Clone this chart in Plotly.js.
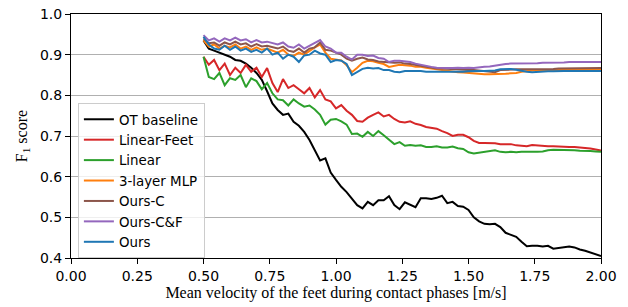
<!DOCTYPE html>
<html><head><meta charset="utf-8">
<script src="https://cdn.plot.ly/plotly-3.0.1.min.js"></script>
<style>html,body{margin:0;padding:0;background:#fff}#c{width:628px;height:307px}</style>
</head><body><div id="c"></div>
<script>
const velocity = [0.50,0.52,0.54,0.56,0.58,0.60,0.62,0.64,0.66,0.68,0.70,0.72,0.74,0.76,0.78,0.80,0.82,0.84,0.86,0.88,0.90,0.92,0.94,0.96,0.98,1.00,1.02,1.04,1.06,1.08,1.10,1.12,1.14,1.16,1.18,1.20,1.22,1.24,1.26,1.28,1.30,1.32,1.34,1.36,1.38,1.40,1.42,1.44,1.46,1.48,1.50,1.52,1.54,1.56,1.58,1.60,1.62,1.64,1.66,1.68,1.70,1.72,1.74,1.76,1.78,1.80,1.82,1.84,1.86,1.88,1.90,1.92,1.94,1.96,1.98,2.00];

const otBaseline = [0.935,0.915,0.91,0.905,0.90,0.895,0.887,0.885,0.878,0.868,0.855,0.838,0.81,0.78,0.764,0.752,0.755,0.735,0.725,0.71,0.69,0.665,0.64,0.645,0.61,0.592,0.575,0.562,0.547,0.53,0.522,0.538,0.53,0.542,0.542,0.552,0.53,0.52,0.537,0.53,0.525,0.547,0.547,0.545,0.548,0.553,0.535,0.538,0.528,0.526,0.518,0.50,0.49,0.484,0.483,0.484,0.476,0.462,0.456,0.452,0.44,0.429,0.43,0.43,0.428,0.43,0.423,0.425,0.427,0.428,0.426,0.421,0.418,0.414,0.41,0.405];

const linearFeet = [0.895,0.875,0.887,0.862,0.878,0.85,0.868,0.855,0.875,0.858,0.868,0.845,0.867,0.83,0.808,0.84,0.818,0.825,0.815,0.805,0.818,0.795,0.813,0.79,0.785,0.768,0.776,0.762,0.752,0.737,0.735,0.745,0.752,0.758,0.748,0.752,0.742,0.735,0.733,0.736,0.73,0.727,0.722,0.72,0.718,0.712,0.707,0.70,0.703,0.703,0.697,0.688,0.683,0.683,0.683,0.682,0.68,0.68,0.68,0.677,0.676,0.675,0.678,0.677,0.675,0.675,0.675,0.674,0.674,0.673,0.673,0.672,0.67,0.669,0.667,0.664];

const linear = [0.895,0.845,0.84,0.855,0.825,0.842,0.838,0.85,0.82,0.842,0.835,0.815,0.83,0.805,0.79,0.788,0.775,0.79,0.78,0.772,0.775,0.765,0.752,0.728,0.74,0.742,0.736,0.728,0.705,0.706,0.698,0.71,0.70,0.712,0.702,0.69,0.68,0.685,0.676,0.678,0.676,0.677,0.673,0.673,0.675,0.672,0.672,0.674,0.67,0.668,0.66,0.657,0.659,0.661,0.663,0.665,0.661,0.66,0.661,0.66,0.661,0.661,0.66,0.661,0.662,0.665,0.666,0.666,0.665,0.665,0.665,0.664,0.664,0.663,0.662,0.661];

const mlp3 = [0.935,0.92,0.925,0.915,0.922,0.918,0.925,0.915,0.92,0.912,0.918,0.912,0.915,0.91,0.905,0.912,0.90,0.897,0.905,0.90,0.91,0.918,0.925,0.905,0.89,0.888,0.886,0.874,0.857,0.868,0.88,0.885,0.884,0.88,0.877,0.87,0.873,0.875,0.874,0.873,0.87,0.87,0.868,0.866,0.864,0.862,0.86,0.858,0.857,0.856,0.855,0.854,0.852,0.852,0.852,0.852,0.853,0.853,0.854,0.855,0.858,0.86,0.861,0.862,0.862,0.862,0.862,0.862,0.862,0.862,0.862,0.862,0.862,0.862,0.862,0.862];

const oursC = [0.94,0.928,0.93,0.922,0.93,0.925,0.932,0.925,0.928,0.92,0.926,0.92,0.922,0.918,0.915,0.92,0.91,0.907,0.915,0.905,0.915,0.918,0.93,0.912,0.91,0.905,0.90,0.89,0.885,0.89,0.893,0.888,0.887,0.883,0.882,0.88,0.88,0.881,0.878,0.877,0.875,0.873,0.87,0.868,0.866,0.866,0.865,0.865,0.864,0.863,0.862,0.862,0.861,0.86,0.858,0.857,0.862,0.863,0.864,0.864,0.864,0.864,0.865,0.865,0.865,0.865,0.865,0.866,0.866,0.866,0.866,0.867,0.867,0.867,0.867,0.867];

const oursCF = [0.948,0.935,0.94,0.932,0.94,0.935,0.942,0.935,0.938,0.93,0.936,0.93,0.932,0.928,0.925,0.93,0.92,0.917,0.925,0.915,0.922,0.928,0.936,0.92,0.915,0.905,0.905,0.895,0.888,0.90,0.90,0.897,0.898,0.892,0.89,0.882,0.885,0.885,0.883,0.882,0.878,0.875,0.872,0.87,0.868,0.867,0.867,0.867,0.868,0.867,0.868,0.867,0.869,0.87,0.871,0.873,0.876,0.877,0.878,0.878,0.878,0.878,0.879,0.879,0.88,0.88,0.88,0.881,0.881,0.882,0.882,0.882,0.882,0.882,0.882,0.882];

const ours = [0.944,0.925,0.915,0.912,0.922,0.912,0.92,0.91,0.915,0.907,0.912,0.905,0.915,0.90,0.905,0.89,0.90,0.895,0.882,0.898,0.90,0.91,0.903,0.90,0.882,0.887,0.885,0.877,0.85,0.857,0.865,0.868,0.866,0.867,0.862,0.862,0.858,0.857,0.86,0.86,0.86,0.86,0.858,0.858,0.857,0.857,0.858,0.857,0.858,0.858,0.859,0.86,0.86,0.86,0.86,0.861,0.864,0.865,0.865,0.863,0.86,0.858,0.857,0.858,0.859,0.859,0.859,0.86,0.86,0.86,0.86,0.86,0.86,0.86,0.86,0.86];

const seriesNames = ["OT baseline","Linear-Feet","Linear","3-layer MLP","Ours-C","Ours-C&F","Ours"];
const seriesValues = [otBaseline, linearFeet, linear, mlp3, oursC, oursCF, ours];
const seriesColors = ["#000000","#d62728","#2ca02c","#ff7f0e","#8c564b","#9467bd","#1f77b4"];
const xTicks = [0,0.25,0.5,0.75,1.0,1.25,1.5,1.75,2.0];
const yTicks = [0.4,0.5,0.6,0.7,0.8,0.9,1.0];

const traces = seriesNames.map((n,i)=>({
  x: velocity, y: seriesValues[i], name: n, type: 'scatter', mode: 'lines',
  line: {color: seriesColors[i], width: 2}
}));

const tickFont = {family: 'DejaVu Sans, sans-serif', size: 14, color: '#000'};
const titleFont = {family: 'Liberation Serif, Times New Roman, serif', size: 16, color: '#000'};

const layout = {
  width: 628, height: 307,
  margin: {l: 71, r: 27, t: 14, b: 49},
  paper_bgcolor: '#fff', plot_bgcolor: '#fff',
  showlegend: true,
  legend: {
    x: 0.013, y: 0.635, xanchor: 'left', yanchor: 'top',
    bgcolor: 'rgba(255,255,255,0.8)', bordercolor: '#cccccc', borderwidth: 1,
    font: {family: 'DejaVu Sans, sans-serif', size: 13.4, color: '#000'},
    itemwidth: 30, tracegroupgap: 0
  },
  xaxis: {
    range: [0, 2], tickvals: xTicks, ticktext: xTicks.map(v=>v.toFixed(2)),
    ticks: 'outside', ticklen: 5, tickwidth: 1, tickcolor: '#000',
    showgrid: false, zeroline: false, showline: true, linecolor: '#000', linewidth: 1, mirror: true,
    tickfont: tickFont,
    title: {text: 'Mean velocity of the feet during contact phases [m/s]', font: titleFont, standoff: 2}
  },
  yaxis: {
    range: [0.4, 1.0], tickvals: yTicks, ticktext: yTicks.map(v=>v.toFixed(1)),
    ticks: 'outside', ticklen: 5, tickwidth: 1, tickcolor: '#000',
    showgrid: true, gridcolor: '#b0b0b0', gridwidth: 1, zeroline: false,
    showline: true, linecolor: '#000', linewidth: 1, mirror: true,
    tickfont: tickFont,
    title: {text: 'F<sub>1</sub> score', font: titleFont, standoff: 8}
  }
};

Plotly.newPlot('c', traces, layout, {staticPlot: true, displayModeBar: false});
</script>
</body></html>
